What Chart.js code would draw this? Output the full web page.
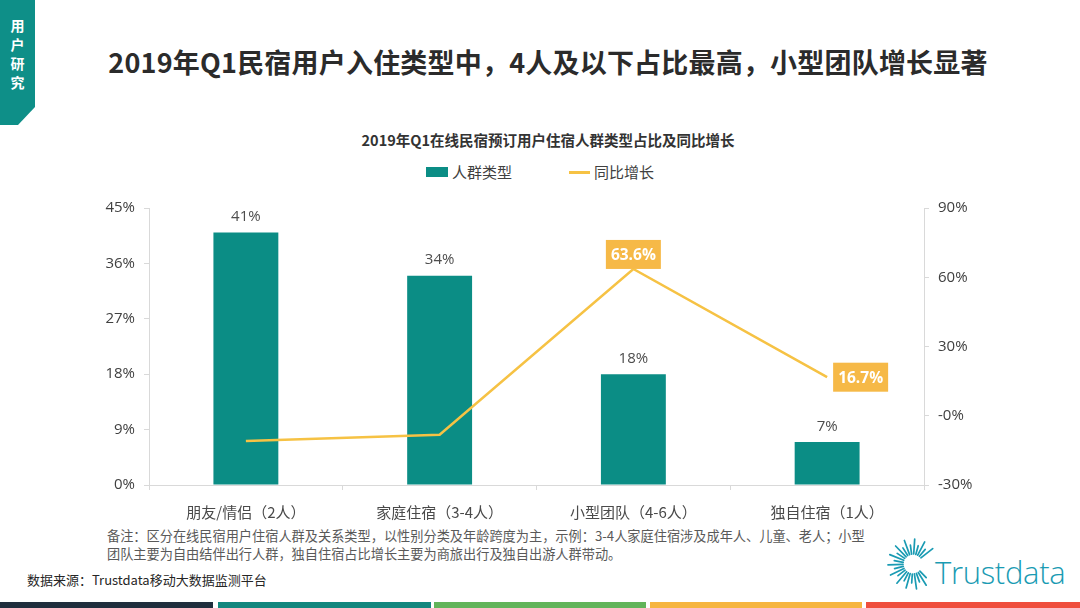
<!DOCTYPE html>
<html>
<head>
<meta charset="utf-8">
<script src="https://cdn.jsdelivr.net/npm/chart.js@4.4.1/dist/chart.umd.min.js"></script>
<style>
  html,body{margin:0;padding:0;background:#fff;}
  body{width:1080px;height:608px;position:relative;overflow:hidden;font-family:"Noto Sans CJK SC","Noto Sans",sans-serif;}
  .tag{position:absolute;left:0;top:0;width:35px;height:125px;background:#0e8f88;
       clip-path:polygon(0 0,35px 0,35px 107px,18px 125px,0 125px);}
  .tag div{position:absolute;left:0;top:16px;width:35px;text-align:center;color:#fff;font-weight:bold;font-size:14px;line-height:19px;}
  .title{position:absolute;left:0;top:42px;width:1096px;text-align:center;font-size:27px;font-weight:bold;color:#2b2b2b;letter-spacing:0.2px;}
  .ctitle{position:absolute;left:0;top:129px;width:1096px;text-align:center;font-size:14.5px;font-weight:bold;color:#333;}
  .legend{position:absolute;top:161px;left:0;width:1080px;height:22px;font-size:15px;color:#404040;}
  .legend span{position:absolute;top:0;line-height:22px;}
  #wrap{position:absolute;left:0;top:190px;width:1080px;height:335px;}
  .note{position:absolute;left:107px;top:527px;font-size:13.2px;line-height:18px;color:#595959;}
  .src{position:absolute;left:27px;top:570px;font-size:13px;color:#262626;}
  .logo{position:absolute;left:935px;top:551px;font-family:"Open Sans","Noto Sans",sans-serif;font-weight:300;font-size:31px;color:#1a9bb3;letter-spacing:-0.3px;}
  .stripe{position:absolute;top:602px;height:6px;}
</style>
</head>
<body>
<div class="tag"><div>用<br>户<br>研<br>究</div></div>
<div class="title">2019年Q1民宿用户入住类型中，4人及以下占比最高，小型团队增长显著</div>
<div class="ctitle">2019年Q1在线民宿预订用户住宿人群类型占比及同比增长</div>
<div class="legend" id="legend"></div>
<div id="wrap"><canvas id="c" width="1080" height="335"></canvas></div>
<div class="note">备注：区分在线民宿用户住宿人群及关系类型，以性别分类及年龄跨度为主，示例：3-4人家庭住宿涉及成年人、儿童、老人；小型<br>团队主要为自由结伴出行人群，独自住宿占比增长主要为商旅出行及独自出游人群带动。</div>
<div class="src">数据来源：Trustdata移动大数据监测平台</div>
<svg id="sun" style="position:absolute;left:886px;top:536px" width="56" height="60"></svg>
<div class="logo">Trustdata</div>
<div class="stripe" style="left:0;width:213px;background:#1f2e3d"></div>
<div class="stripe" style="left:218px;width:213px;background:#12877e"></div>
<div class="stripe" style="left:434px;width:212px;background:#62b45a"></div>
<div class="stripe" style="left:650px;width:212px;background:#f6b540"></div>
<div class="stripe" style="left:866px;width:214px;background:#ef4e3d"></div>
<script>
// ---- data ----
const categories = ["朋友/情侣（2人）", "家庭住宿（3-4人）", "小型团队（4-6人）", "独自住宿（1人）"];
const shareValues = [41, 34, 18, 7];            // 人群类型占比 (%)
const growthValues = [-10.9, -8.2, 63.6, 16.7]; // 同比增长 (%)
const leftTicks = [0, 9, 18, 27, 36, 45];
const rightTicks = [-30, 0, 30, 60, 90];
const seriesNames = ["人群类型", "同比增长"];
const growthLabelShown = [false, false, true, true];

const TEAL = "#0b8d85", YELLOW = "#f6c244", LABELBG = "#f6b947";

// legend (HTML)
const lg = document.getElementById('legend');
lg.innerHTML =
  '<span style="left:426px;top:6px;width:22px;height:10px;background:'+TEAL+'"></span>' +
  '<span style="left:452px">'+seriesNames[0]+'</span>' +
  '<span style="left:569px;top:10px;width:21px;height:2.5px;background:'+YELLOW+'"></span>' +
  '<span style="left:594px">'+seriesNames[1]+'</span>';

// sunburst decoration
(function(){
  const svg = document.getElementById('sun');
  const cx = 27, cy = 28;
  let s = '', k = 0;
  for (let a = 38; a <= 322; a += 12, k++) {
    const r = a * Math.PI / 180;
    const r1 = 10, r2 = (k % 2 === 0) ? 25 : 19;
    const x1 = cx + Math.cos(r)*r1, y1 = cy - Math.sin(r)*r1;
    const x2 = cx + Math.cos(r)*r2, y2 = cy - Math.sin(r)*r2;
    s += '<line x1="'+x1.toFixed(1)+'" y1="'+y1.toFixed(1)+'" x2="'+x2.toFixed(1)+'" y2="'+y2.toFixed(1)+'" stroke="#1a9bb3" stroke-width="1.7" stroke-linecap="round"/>';
  }
  svg.innerHTML = s;
})();

const labelPlugin = {
  id: 'valueLabels',
  afterDatasetsDraw(chart) {
    const ctx = chart.ctx;
    ctx.save();
    const m0 = chart.getDatasetMeta(0);
    ctx.font = '15px "Open Sans","Noto Sans",sans-serif';
    ctx.fillStyle = '#4d4d4d';
    ctx.textAlign = 'center';
    ctx.textBaseline = 'bottom';
    m0.data.forEach((el, i) => {
      ctx.fillText(shareValues[i] + '%', el.x, el.y - 8);
    });
    const m1 = chart.getDatasetMeta(1);
    ctx.font = 'bold 15.5px "Open Sans","Noto Sans",sans-serif';
    ctx.textBaseline = 'middle';
    m1.data.forEach((el, i) => {
      if (!growthLabelShown[i]) return;
      const txt = growthValues[i].toFixed(1) + '%';
      const w = 55, h = 29;
      let bx, by;
      if (i === 2) { bx = el.x - w/2; by = el.y - h; }
      else { bx = el.x + 6; by = el.y - h/2; }
      ctx.fillStyle = LABELBG;
      ctx.fillRect(bx, by, w, h);
      ctx.fillStyle = '#fff';
      ctx.textAlign = 'center';
      ctx.fillText(txt, bx + w/2, by + h/2 + 1);
    });
    ctx.restore();
  }
};

const tickFont = { family: '"Open Sans","Noto Sans",sans-serif', size: 15 };
new Chart(document.getElementById('c'), {
  data: {
    labels: categories,
    datasets: [
      { type: 'bar', label: seriesNames[0], data: shareValues, backgroundColor: TEAL,
        yAxisID: 'y', categoryPercentage: 1, barPercentage: 0.335, order: 2 },
      { type: 'line', label: seriesNames[1], data: growthValues, borderColor: YELLOW,
        borderWidth: 2.5, pointRadius: 0, tension: 0, yAxisID: 'y1', order: 1 }
    ]
  },
  options: {
    responsive: false,
    animation: false,
    devicePixelRatio: 1,
    layout: { padding: { top: 18, bottom: 0, left: 0, right: 0 } },
    plugins: { legend: { display: false }, tooltip: { enabled: false }, title: { display: false } },
    scales: {
      x: {
        grid: { display: true, drawOnChartArea: false, offset: true, tickLength: 5, color: '#d9d9d9' },
        border: { color: '#d9d9d9' },
        ticks: { font: { family: '"Noto Sans CJK SC",sans-serif', size: 15 }, color: '#4a4a4a', padding: 13 },
        afterFit(s) { s.height = 40; }
      },
      y: {
        position: 'left', min: 0, max: 45,
        afterBuildTicks(s) { s.ticks = leftTicks.map(v => ({ value: v })); },
        grid: { display: true, drawOnChartArea: false, tickLength: 5, color: '#d9d9d9' },
        border: { color: '#d9d9d9' },
        ticks: { font: tickFont, color: '#404040', padding: 9, callback: v => v + '%' },
        afterFit(s) { s.width = 149; }
      },
      y1: {
        position: 'right', min: -30, max: 90,
        afterBuildTicks(s) { s.ticks = rightTicks.map(v => ({ value: v })); },
        grid: { display: true, drawOnChartArea: false, tickLength: 5, color: '#d9d9d9' },
        border: { color: '#d9d9d9' },
        ticks: { font: tickFont, color: '#404040', padding: 9, callback: v => (v === 0 ? '-0%' : v + '%') },
        afterFit(s) { s.width = 156; }
      }
    }
  },
  plugins: [labelPlugin]
});
</script>
</body>
</html>
